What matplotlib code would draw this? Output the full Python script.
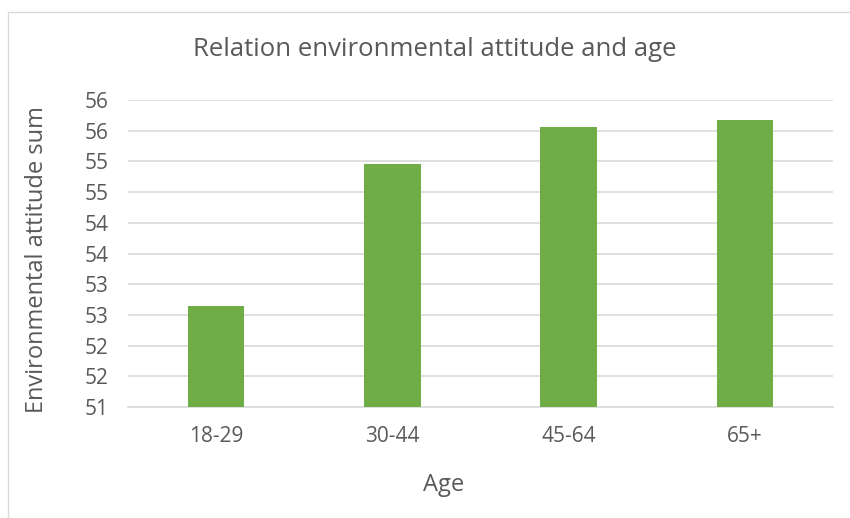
import matplotlib.pyplot as plt
import numpy as np
from matplotlib.patches import Rectangle
from matplotlib.ticker import MultipleLocator, FuncFormatter

# values
age_groups = ['18-29', '30-44', '45-64', '65+']
attitude_sum = [52.65, 54.95, 55.56, 55.68]

text_col = '#595959'
plt.rcParams['font.family'] = ['Open Sans', 'DejaVu Sans']

fig = plt.figure(figsize=(8.5, 5.18), dpi=100)
ax = fig.add_axes([128 / 850, 1 - 407 / 518, 705 / 850, 307 / 518])

x = np.arange(len(age_groups))
ax.bar(x, attitude_sum, width=0.32, color='#70AD47', zorder=3)

ax.set_xlim(-0.5, len(age_groups) - 0.5)
ax.set_ylim(51, 56)
ax.yaxis.set_major_locator(MultipleLocator(0.5))
# Excel shows the half steps rounded to whole numbers
ax.yaxis.set_major_formatter(FuncFormatter(lambda v, p: f"{int(np.floor(v + 0.5))}"))
ax.set_xticks(x, age_groups)

ax.grid(axis='y', color='#D9D9D9', linewidth=1.2, zorder=0)
for s in ['top', 'right', 'left']:
    ax.spines[s].set_visible(False)
ax.spines['bottom'].set_color('#D9D9D9')
ax.spines['bottom'].set_linewidth(1.2)
ax.tick_params(length=0, labelsize=15, colors=text_col)
ax.tick_params(axis='x', pad=14)
ax.tick_params(axis='y', pad=14)

fig.text(444 / 850, 1 - 485 / 518, 'Age', fontsize=17, color=text_col,
         ha='center', va='center')
fig.text(37 / 850, 1 - 260 / 518, 'Environmental attitude sum', fontsize=17,
         color=text_col, ha='center', va='center', rotation=90)
fig.text(435 / 850, 1 - 50 / 518, 'Relation environmental attitude and age',
         fontsize=18.5, color=text_col, ha='center', va='center')

# chart border
fig.patches.append(Rectangle((8 / 850, -0.1), 1.2, 1.1 - 12 / 518, transform=fig.transFigure,
                             fill=False, edgecolor='#D9D9D9', linewidth=1))

fig.savefig('out.png', dpi=100)
